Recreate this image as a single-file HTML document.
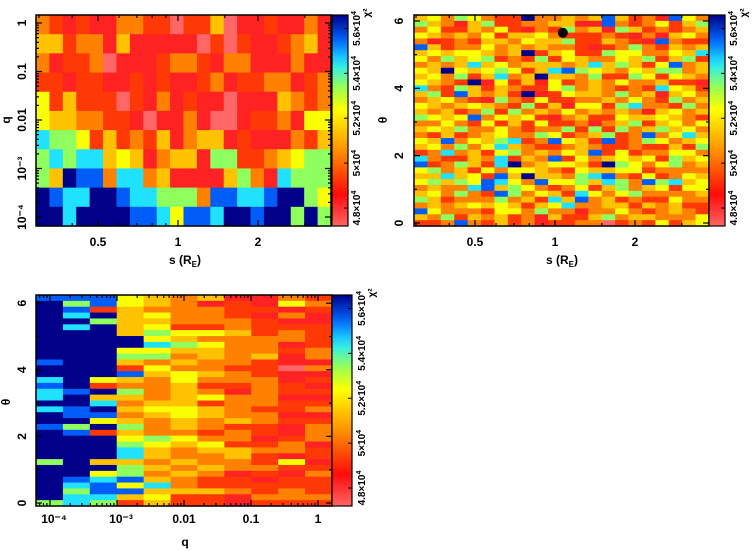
<!DOCTYPE html>
<html><head><meta charset="utf-8"><style>
html,body{margin:0;padding:0;background:#fff;}
svg{display:block;font-family:"Liberation Sans",sans-serif;font-weight:bold;}
</style></head><body>
<svg id="fig" width="754" height="551" viewBox="0 0 754 551"></svg>
<script>
// ===== data (χ² levels 0..9 per cell; value = 4.72 + level*0.1044 ×10^4) =====
const p1Rows = [ // q rows top(1) -> bottom(1e-4), 22 s-columns
"3212113322022401121131",
"4423314111110202112341",
"3122301112332133111311",
"2212211212112312233123",
"5242220213121101114323",
"5443322101131001223155",
"7665242324134412111324",
"6767745413441662234566",
"6498837734111146317666",
"9877998776663887789965",
"9979999887588799899696"
];
const p2Rows = [ // theta rows top(6.2) -> bottom(0), 22 s-columns
"4536532293343484231853",
"6431462233441183235246",
"3522435213263416423234",
"5434352445322232131453",
"3123244354462243218322",
"8423353434332123632434",
"4545543492452265533547",
"5364562326254335462462",
"3434745344434746425834",
"5495456524786543546634",
"4536247349443622652543",
"5432915241523435334221",
"7326424322563432327542",
"4628434291254436341453",
"3453216325223343532634",
"5434543262415526733263",
"4342362634353434314534",
"6545835452134225445432",
"3353252425223134624535",
"4546335323362626346453",
"3242345336523462383574",
"5483546723854282365345",
"4536357432234322322426",
"2373425634354825233553",
"7322437243825345452645",
"8236427934554296535634",
"5634253554325445523333",
"4474528494436783252354",
"5646587538556476386745",
"3433784653235246345255",
"4536328635427535633334",
"6423336342748342322533",
"3434545424573344243422",
"8533325536331335323432",
"4362434231422463443335",
"2238324231223302325245"
];
const p3Rows = [ // theta rows top -> bottom, 11 q-columns
"88854341132",
"96854312153",
"98243332212",
"97945332131",
"99644333211",
"97945223222",
"99946554232",
"99995433332",
"99997653312",
"99955443323",
"99966343413",
"89943433211",
"99925332203",
"99984543211",
"79543533312",
"89233422321",
"78963431322",
"79443453311",
"99734423322",
"78945543223",
"98834543311",
"99543434322",
"86963432213",
"98243323213",
"99956533123",
"99965452231",
"99974344332",
"99974334212",
"69443433251",
"99964343322",
"99563431213",
"98784322122",
"97857322222",
"96884443232",
"97745221333",
"67624221222"
];
const cbTickVals = [4.8, 5.0, 5.2, 5.4, 5.6];
const cbTickText = ["4.8", "5", "5.2", "5.4", "5.6"];
const sTickVals = [0.5, 1, 2];
const sTickText = ["0.5", "1", "2"];
const qTickExp = [0, -1, -2, -3, -4];
const qTickText1 = ["1", "0.1", "0.01", "10⁻³", "10⁻⁴"];
const thTickVals = [0, 2, 4, 6];
const thTickText = ["0", "2", "4", "6"];
const dotS = [1.07];
const dotTheta = [5.65];

// ===== helpers =====
const NS = "http://www.w3.org/2000/svg";
const svg = document.getElementById("fig");
function mk(tag, attrs, parent) {
  const e = document.createElementNS(NS, tag);
  for (const k in attrs) e.setAttribute(k, attrs[k]);
  (parent || svg).appendChild(e);
  return e;
}
const VMIN = 4.72, VMAX = 5.66;
function val(c) { return VMIN + (+c) * 0.1044; }
const stops = [[0,[255,102,102]],[0.15,[255,10,10]],[0.35,[255,140,0]],[0.55,[255,255,0]],[0.66,[150,255,85]],[0.77,[34,235,255]],[0.88,[0,100,255]],[1,[0,0,136]]];
function cmap(v) {
  let t = Math.max(0, Math.min(1, (v - VMIN) / (VMAX - VMIN)));
  for (let i = 1; i < stops.length; i++) {
    if (t <= stops[i][0]) {
      const a = stops[i-1], b = stops[i], f = (t - a[0]) / (b[0] - a[0]);
      const c = a[1].map((x, j) => Math.round(x + (b[1][j] - x) * f));
      return "rgb(" + c.join(",") + ")";
    }
  }
  return "rgb(0,0,136)";
}
const defs = mk("defs", {});
const grad = mk("linearGradient", {id: "cbg", x1: 0, y1: 1, x2: 0, y2: 0}, defs);
for (let i = 0; i <= 20; i++) {
  mk("stop", {offset: i / 20, "stop-color": cmap(VMIN + (VMAX - VMIN) * i / 20)}, grad);
}

function heat(g, rows, box) {
  const nr = rows.length, nc = rows[0].length;
  const cw = (box.x1 - box.x0) / nc, rh = (box.y1 - box.y0) / nr;
  rows.forEach((r, i) => {
    r.split("").forEach((c, j) => {
      const rc = mk("rect", {x: (box.x0 + j * cw).toFixed(2), y: (box.y0 + i * rh).toFixed(2), width: (cw + 0.6).toFixed(2), height: (rh + 0.6).toFixed(2), fill: cmap(val(c))}, g);
      
      
    });
  });
}
function frame(g, box) {
  mk("rect", {x: box.x0, y: box.y0, width: box.x1 - box.x0, height: box.y1 - box.y0, fill: "none", stroke: "#000", "stroke-width": 1.5}, g);
}
function xtick(g, box, x, len) {
  mk("line", {x1: x, y1: box.y1, x2: x, y2: box.y1 - len, stroke: "#000", "stroke-width": 1.2}, g);
  mk("line", {x1: x, y1: box.y0, x2: x, y2: box.y0 + len, stroke: "#000", "stroke-width": 1.2}, g);
}
function ytick(g, box, y, len) {
  mk("line", {x1: box.x0, y1: y, x2: box.x0 + len, y2: y, stroke: "#000", "stroke-width": 1.2}, g);
  mk("line", {x1: box.x1, y1: y, x2: box.x1 - len, y2: y, stroke: "#000", "stroke-width": 1.2}, g);
}
function ylabel(g, x, y, txt, name) {
  const t = mk("text", {x: x, y: y, "font-size": 12, "text-anchor": "middle", transform: "rotate(-90 " + x + " " + y + ")"}, g);
  t.textContent = txt;
  
  
}
function xlabel(g, x, y, txt, name) {
  const t = mk("text", {x: x, y: y, "font-size": 12, "text-anchor": "middle"}, g);
  t.textContent = txt;
  
  
}
function sTitle(g, x, y) {
  const t = mk("text", {x: x, y: y, "font-size": 12, "text-anchor": "middle"}, g);
  
  
  mk("tspan", {}, t).textContent = "s (R";
  mk("tspan", {"font-size": 8, dy: 3}, t).textContent = "E";
  mk("tspan", {dy: -3}, t).textContent = ")";
}
function colorbar(g, cx0, cx1, y0, y1, lx) {
  const cb = mk("rect", {x: cx0, y: y0, width: cx1 - cx0, height: y1 - y0, fill: "url(#cbg)", stroke: "#000", "stroke-width": 1.2}, g);
  
  
  const cy = v => y1 - (v - VMIN) / (VMAX - VMIN) * (y1 - y0);
  cbTickVals.forEach((v, i) => {
    const y = cy(v);
    mk("line", {x1: cx1, y1: y, x2: cx1 - 4, y2: y, stroke: "#000", "stroke-width": 1}, g);
    const t = mk("text", {x: lx, y: y, "font-size": 10, "text-anchor": "middle", transform: "rotate(-90 " + lx + " " + y + ")"}, g);
    t.textContent = cbTickText[i] + "×10";
    const s = mk("tspan", {dy: -4, "font-size": 7}, t);
    s.textContent = "4";
    
    
  });
  const cl = mk("text", {x: lx + 10, y: y0 - 2, "font-size": 10, "text-anchor": "middle", transform: "rotate(-90 " + (lx + 10) + " " + (y0 - 2) + ")"}, g);
  cl.textContent = "χ²";
  
  
}

// ===== Panel 1: q vs s =====
(function () {
  const box = {x0: 36, x1: 331, y0: 15, y1: 226};
  const g = mk("g", {});
  
  
  heat(g, p1Rows, box);
  frame(g, box);
  const xs = s => 178 + 265.8 * Math.log10(s);
  const yq = e => 23 + (0 - e) * 48.5;
  sTickVals.forEach((s, i) => { xtick(g, box, xs(s), 6); xlabel(g, xs(s), 246, sTickText[i], "x-tick-label"); });
  [0.3,0.4,0.6,0.7,0.8,0.9,1.5,3].forEach(s => xtick(g, box, xs(s), 3));
  qTickExp.forEach((e, i) => { ytick(g, box, yq(e), 6); ylabel(g, 26, yq(e), qTickText1[i], "y-tick-label"); });
  for (let e = -4; e <= 0; e++) for (let m = 2; m <= 9; m++) { const y = yq(e + Math.log10(m)); if (y > box.y0 && y < box.y1) ytick(g, box, y, 3); }
  sTitle(g, 185, 264);
  ylabel(g, 10, 120, "q", "y-axis-title");
  colorbar(g, 332, 348, 15, 226, 360);
})();

// ===== Panel 2: theta vs s =====
(function () {
  const box = {x0: 414, x1: 709, y0: 15, y1: 226};
  const g = mk("g", {});
  
  
  heat(g, p2Rows, box);
  frame(g, box);
  const xs = s => 555 + 265.8 * Math.log10(s);
  const yt = th => 223 - th * 33.67;
  sTickVals.forEach((s, i) => { xtick(g, box, xs(s), 6); xlabel(g, xs(s), 246, sTickText[i], "x-tick-label"); });
  [0.3,0.4,0.6,0.7,0.8,0.9,1.5,3].forEach(s => xtick(g, box, xs(s), 3));
  thTickVals.forEach((v, i) => { ytick(g, box, yt(v), 6); ylabel(g, 403, yt(v), thTickText[i], "y-tick-label"); });
  [1, 3, 5].forEach(v => ytick(g, box, yt(v), 3));
  dotS.forEach((s, i) => {
    const c = mk("circle", {cx: xs(s), cy: yt(dotTheta[i]), r: 5, fill: "#000"}, g);
    
    
  });
  sTitle(g, 562, 264);
  ylabel(g, 387, 120, "θ", "y-axis-title");
  colorbar(g, 709, 725, 15, 226, 737);
})();

// ===== Panel 3: theta vs q =====
(function () {
  const box = {x0: 36, x1: 332, y0: 295, y1: 506};
  const g = mk("g", {});
  
  
  heat(g, p3Rows, box);
  frame(g, box);
  const xq = e => 318 + e * 67;
  const yt = th => 503 - th * 33.3;
  const xt = ["1", "0.1", "0.01", "10⁻³", "10⁻⁴"];
  qTickExp.forEach((e, i) => { xtick(g, box, xq(e), 6); xlabel(g, xq(e) + (e <= -3 ? 4 : 0), 523, xt[i], "x-tick-label"); });
  for (let e = -5; e <= 0; e++) for (let m = 2; m <= 9; m++) { const x = xq(e + Math.log10(m)); if (x > box.x0 && x < box.x1) xtick(g, box, x, 3); }
  thTickVals.forEach((v, i) => { ytick(g, box, yt(v), 6); ylabel(g, 26, yt(v), thTickText[i], "y-tick-label"); });
  [1, 3, 5].forEach(v => ytick(g, box, yt(v), 3));
  xlabel(g, 185, 546, "q", "x-axis-title");
  ylabel(g, 10, 402, "θ", "y-axis-title");
  colorbar(g, 332, 352, 295, 506, 365);
})();
</script>
</body></html>
